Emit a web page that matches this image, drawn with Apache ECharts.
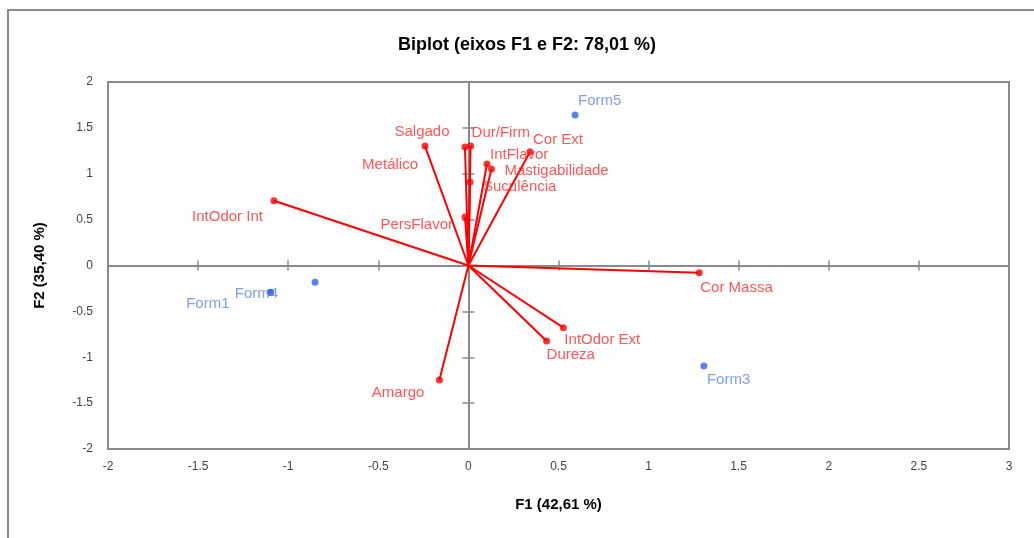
<!DOCTYPE html>
<html>
<head>
<meta charset="utf-8">
<script src="https://cdn.jsdelivr.net/npm/echarts@6/dist/echarts.min.js"></script>
<style>html,body{margin:0;padding:0;background:#fff}#c{width:1034px;height:538px}</style>
</head>
<body>
<div id="c"></div>
<script>
// Variables (red vectors)
const varNames = ['Salgado','Metálico','Dur/Firm','Cor Ext','IntFlavor','Mastigabilidade','Suculência','PersFlavor','IntOdor Int','Cor Massa','IntOdor Ext','Dureza','Amargo'];
const varF1 = [-0.241,-0.019,0.012,0.342,0.103,0.128,0.009,-0.019,-1.079,1.281,0.527,0.434,-0.161];
const varF2 = [1.302,1.291,1.302,1.24,1.106,1.052,0.91,0.529,0.706,-0.078,-0.678,-0.823,-1.248];
// Observations (blue points)
const obsNames = ['Form1','Form2','Form3','Form4','Form5'];
const obsF1 = [-1.10,-0.851,1.307,-1.097,0.592];
const obsF2 = [-0.295,-0.183,-1.095,-0.292,1.64];
// Axis ticks
const xTicks = [-2,-1.5,-1,-0.5,0,0.5,1,1.5,2,2.5,3];
const yTicks = [-2,-1.5,-1,-0.5,0,0.5,1,1.5,2];

// label placement (style only)
const labelPos = {
  'Salgado':[-3,-14,'center'], 'Metálico':[-47,18,'right'], 'Dur/Firm':[1,-13,'left'],
  'Cor Ext':[3,-12,'left'], 'IntFlavor':[3,-9,'left'], 'Mastigabilidade':[13,2,'left'],
  'Suculência':[13,5,'left'], 'PersFlavor':[-12,8,'right'], 'IntOdor Int':[-11,16,'right'],
  'Cor Massa':[1,15,'left'], 'IntOdor Ext':[1,12,'left'], 'Dureza':[0,14,'left'],
  'Amargo':[-15,13,'right'],
  'Form5':[3,-14,'left'], 'Form3':[3,14,'left'], 'Form4':[-36,2,'left'], 'Form1':[-84,11,'left'], 'Form2':null
};
const FONT = 'Liberation Sans';

function mkLabel(name, color){
  const p = labelPos[name];
  if(!p) return {show:false};
  return {show:true, formatter:name, position:'inside', align:p[2], verticalAlign:'middle',
    offset:[p[0],p[1]], color:color, fontFamily:FONT, fontSize:15};
}

const vecData = varNames.map((n,i)=>({coords:[[0,0],[varF1[i],varF2[i]]]}));
const varPts = varNames.map((n,i)=>({name:n, value:[varF1[i],varF2[i]], label:mkLabel(n,'#ff2a2a')}));
const obsPts = obsNames.map((n,i)=>({name:n, value:[obsF1[i],obsF2[i]], label:mkLabel(n,'#5f86f0')}));

const axisGray = '#8a8a8a';
const fmt = v => String(v);
function xAx(extra){ return Object.assign({type:'value', min:-2, max:3, interval:0.5, splitLine:{show:false}}, extra); }
function yAx(extra){ return Object.assign({type:'value', min:-2, max:2, interval:0.5, splitLine:{show:false}}, extra); }

const chart = echarts.init(document.getElementById('c'), null, {renderer:'canvas'});
chart.setOption({
  animation:false,
  backgroundColor:'#fff',
  title:{text:'Biplot (eixos F1 e F2: 78,01 %)', left:522, textAlign:'center', top:31,
    textStyle:{fontFamily:FONT, fontSize:18, fontWeight:'bold', color:'#000'}},
  graphic:[{type:'rect', shape:{x:8,y:10,width:1200,height:700}, style:{fill:null, stroke:'#8a8a8a', lineWidth:2}, silent:true}],
  grid:{left:108, top:82, right:25, bottom:89, show:true, borderColor:axisGray, borderWidth:2, backgroundColor:'transparent'},
  xAxis:[
    xAx({position:'bottom', axisLine:{show:false, onZero:false}, axisTick:{show:false},
      axisLabel:{fontFamily:FONT, fontSize:12, color:'#444', margin:12, formatter:fmt},
      name:'F1 (42,61 %)', nameLocation:'middle', nameGap:48,
      nameTextStyle:{fontFamily:FONT, fontSize:15, fontWeight:'bold', color:'#000'}}),
    xAx({axisLine:{show:true, onZero:true, lineStyle:{color:axisGray, width:2}}, axisTick:{show:true, length:5, inside:false, lineStyle:{color:axisGray, width:1.5}}, axisLabel:{show:false}}),
    xAx({axisLine:{show:true, onZero:true, lineStyle:{color:axisGray, width:2}}, axisTick:{show:true, length:5, inside:true, lineStyle:{color:axisGray, width:1.5}}, axisLabel:{show:false}})
  ],
  yAxis:[
    yAx({position:'left', axisLine:{show:false, onZero:false}, axisTick:{show:false},
      axisLabel:{fontFamily:FONT, fontSize:12, color:'#444', margin:15, formatter:fmt},
      name:'F2 (35,40 %)', nameLocation:'middle', nameGap:61,
      nameTextStyle:{fontFamily:FONT, fontSize:15, fontWeight:'bold', color:'#000'}}),
    yAx({axisLine:{show:true, onZero:true, lineStyle:{color:axisGray, width:2}}, axisTick:{show:true, length:6, inside:false, lineStyle:{color:axisGray, width:1.5}}, axisLabel:{show:false}}),
    yAx({axisLine:{show:true, onZero:true, lineStyle:{color:axisGray, width:2}}, axisTick:{show:true, length:6, inside:true, lineStyle:{color:axisGray, width:1.5}}, axisLabel:{show:false}})
  ],
  series:[
    {type:'lines', coordinateSystem:'cartesian2d', xAxisIndex:0, yAxisIndex:0, data:vecData,
      lineStyle:{color:'#ff0000', width:2, opacity:1}, silent:true, z:3},
    {type:'scatter', xAxisIndex:0, yAxisIndex:0, data:varPts, symbolSize:7, itemStyle:{color:'#ff0000'}, z:4},
    {type:'scatter', xAxisIndex:0, yAxisIndex:0, data:obsPts, symbolSize:7, itemStyle:{color:'#2f63ee'}, z:4}
  ]
});
</script>
</body>
</html>
